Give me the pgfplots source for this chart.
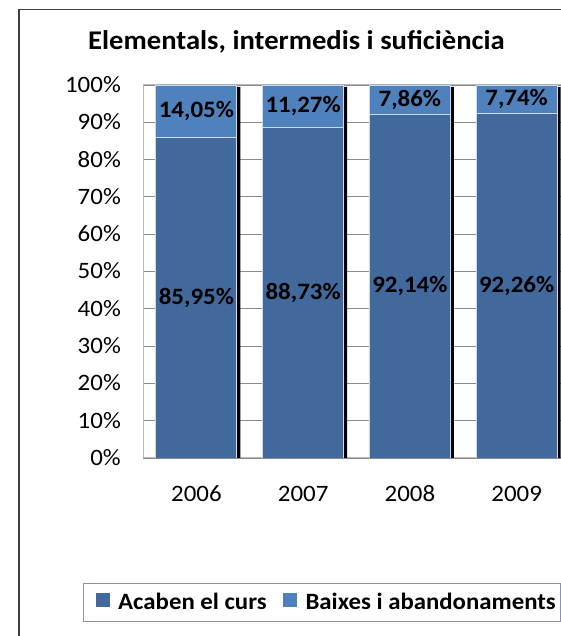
\documentclass[border=0pt]{standalone}
\usepackage{fontspec}
\setmainfont{Carlito}[FakeStretch=1.06]
\usepackage{pgfplots}
\pgfplotsset{compat=1.18}
\definecolor{darkbar}{HTML}{41699B}
\definecolor{lightbar}{HTML}{4F81BD}
\definecolor{gridc}{HTML}{8C8C8C}
\definecolor{boxc}{HTML}{B8B8B8}
\definecolor{legc}{HTML}{8A90C0}
\pgfplotsset{
  base/.style={
    at={(143pt,178pt)}, anchor=south west,
    scale only axis, width=427pt, height=373pt,
    xmin=-0.5, xmax=3.5, ymin=0, ymax=100,
  },
}
\begin{document}
\begin{tikzpicture}
\useasboundingbox (0pt,0pt) rectangle (561pt,636pt);
\clip (0pt,0pt) rectangle (561pt,636pt);
\draw[line width=1.6pt, black!75] (19pt,-5pt) -- (19pt,626.5pt) -- (570pt,626.5pt);

% grid, ticks, title and the bar shadows
\begin{axis}[base,
    axis line style={draw=boxc, line width=1pt},
    ymajorgrids, major grid style={gridc, line width=0.8pt},
    major tick length=0pt,
    xtick={0,1,2,3}, xticklabels={2006,2007,2008,2009},
    ytick={0,10,...,100},
    yticklabels={0\%,10\%,20\%,30\%,40\%,50\%,60\%,70\%,80\%,90\%,100\%},
    tick label style={font=\fontsize{23.5}{28}\selectfont, inner sep=0pt},
    yticklabel style={anchor=base east, xshift=-22pt, yshift=-7.5pt},
    xticklabel style={anchor=base, yshift=-44pt},
    title={\bfseries Elementals, intermedis i suficiència},
    title style={font=\fontsize{27}{32}\selectfont, at={(axis description cs:0.3595,1.080)}, anchor=base},
    ybar, bar width=81pt, bar shift=3.5pt]
  \addplot[fill=black, draw=none] coordinates {(0,99.5) (1,99.5) (2,99.5) (3,99.5)};
\end{axis}

% the stacked bars, labels centred in each segment
\begin{axis}[base, hide axis,
    ybar stacked, bar width=81pt,
    point meta=explicit symbolic,
    nodes near coords,
    every node near coord/.append style={anchor=center,
      font=\bfseries\fontsize{23.5}{28}\selectfont, text=black},
    legend columns=-1,
    legend image code/.code={\path (0pt,0pt); \fill[#1, draw=none] (9pt,-5pt) rectangle (23pt,9pt); \path (29pt,0pt);},
    legend style={at={(-0.1405,-0.335)}, anchor=north west, draw=legc, line width=0.8pt,
      inner ysep=8pt,
      font=\bfseries\fontsize{23.4}{28}\selectfont,
      /tikz/every even column/.append style={column sep=5pt}}]
  \addplot[fill=darkbar, draw=white!70!lightbar, line width=0.8pt] coordinates {
    (0,85.95) [85,95\%]
    (1,88.73) [88,73\%]
    (2,92.14) [92,14\%]
    (3,92.26) [92,26\%]
  };
  \addplot[fill=lightbar, draw=white!70!lightbar, line width=0.8pt] coordinates {
    (0,14.05) [14,05\%]
    (1,11.27) [11,27\%]
    (2,7.86) [7,86\%]
    (3,7.74) [7,74\%]
  };
  \legend{Acaben el curs, Baixes i abandonaments}
\end{axis}
\end{tikzpicture}
\end{document}
